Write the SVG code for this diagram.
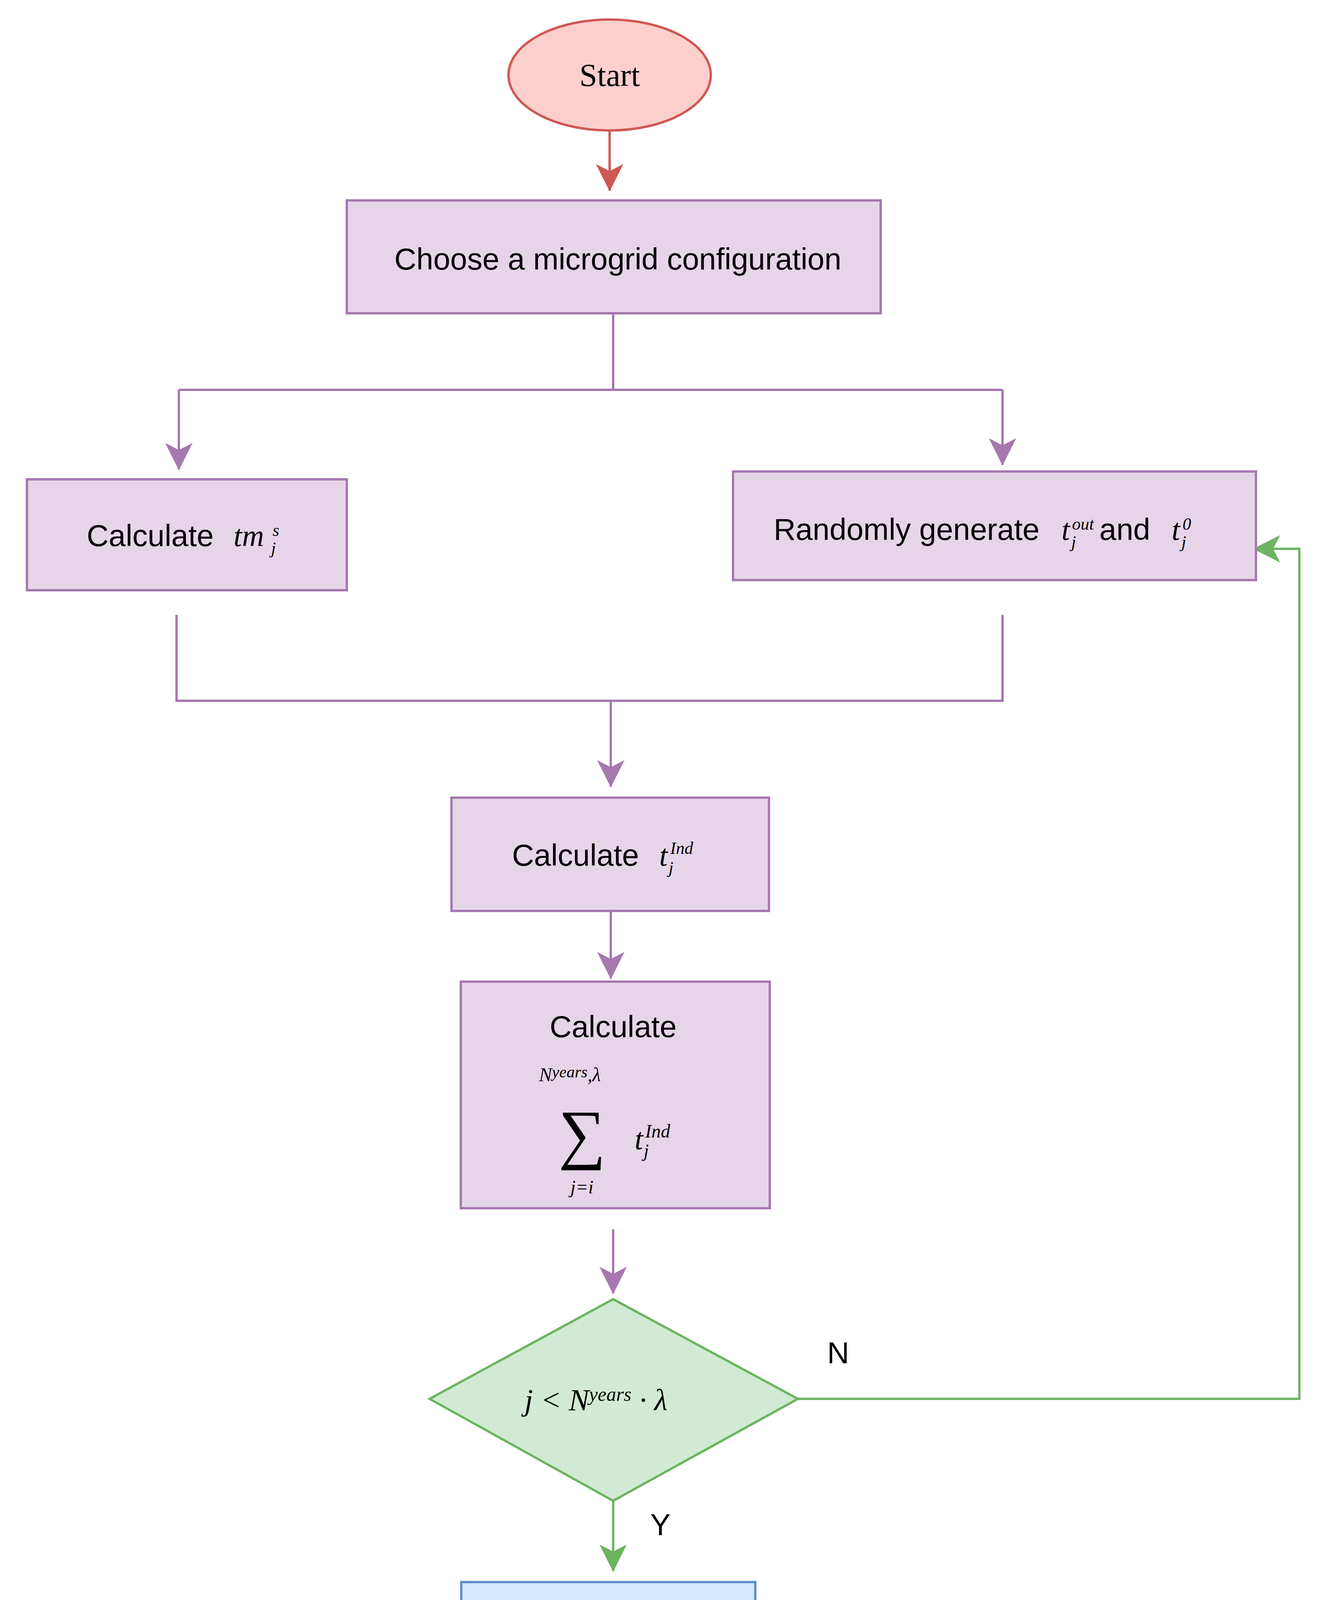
<svg xmlns="http://www.w3.org/2000/svg" width="3426" height="4910" viewBox="0 0 3426 4910">
<style>
.t{font-family:"Liberation Sans",Arial,sans-serif;font-size:78px;fill:#000}
.m{font-family:"Liberation Serif","Times New Roman",serif;font-style:italic;fill:#000}
.s{font-family:"Liberation Serif","Times New Roman",serif;fill:#000}
.p{fill:#e6d5e8;stroke:#a678b0;stroke-width:6}
.e{fill:#fccfcd;stroke:#cf5752;stroke-width:6}
.c{fill:none;stroke-width:6}
</style>
<defs>
<marker id="ap" viewBox="0 0 70 70" refX="68" refY="35" markerWidth="70" markerHeight="70" markerUnits="userSpaceOnUse" orient="auto"><path d="M0,0 L70,35 L0,70 L18,35 Z" fill="#a678b0"/></marker>
<marker id="ar" viewBox="0 0 70 70" refX="68" refY="35" markerWidth="70" markerHeight="70" markerUnits="userSpaceOnUse" orient="auto"><path d="M0,0 L70,35 L0,70 L18,35 Z" fill="#cf5752"/></marker>
<marker id="ag" viewBox="0 0 70 70" refX="68" refY="35" markerWidth="70" markerHeight="70" markerUnits="userSpaceOnUse" orient="auto"><path d="M0,0 L70,35 L0,70 L18,35 Z" fill="#6db461"/></marker>
<marker id="ab" viewBox="0 0 70 70" refX="68" refY="35" markerWidth="70" markerHeight="70" markerUnits="userSpaceOnUse" orient="auto"><path d="M0,0 L70,35 L0,70 L18,35 Z" fill="#5f8fc8"/></marker>
</defs>
<g id="connectors">
<path class="c" stroke="#cf5752" d="M1561,330 V488" marker-end="url(#ar)"/>
<path class="c" stroke="#a678b0" d="M1570,802 V998 M458,998 H2567"/>
<path class="c" stroke="#a678b0" d="M458,998 V1202" marker-end="url(#ap)"/>
<path class="c" stroke="#a678b0" d="M2567,998 V1190" marker-end="url(#ap)"/>
<path class="c" stroke="#a678b0" d="M452,1574 V1794 H2567 V1574"/>
<path class="c" stroke="#a678b0" d="M1564,1794 V2014" marker-end="url(#ap)"/>
<path class="c" stroke="#a678b0" d="M1564,2332 V2505" marker-end="url(#ap)"/>
<path class="c" stroke="#a678b0" d="M1570,3147 V3311" marker-end="url(#ap)"/>
<path class="c" stroke="#6db461" d="M2043,3581 H3327 V1405 H3210" marker-end="url(#ag)"/>
<path class="c" stroke="#6db461" d="M1570,3842 V4022" marker-end="url(#ag)"/>
<path class="c" stroke="#5f8fc8" stroke-dasharray="20 12" d="M1570,4437 V4560" marker-end="url(#ab)"/>
<text class="t" x="2118" y="3490">N</text>
<text class="t" x="1665" y="3930">Y</text>
</g>
<g id="start"><ellipse class="e" cx="1561" cy="192" rx="259" ry="142"/><text class="s" x="1561" y="220" font-size="82" text-anchor="middle">Start</text></g>
<g id="choose"><rect class="p" x="888" y="513" width="1367" height="289"/><text class="t" x="1582" y="690" text-anchor="middle">Choose a microgrid configuration</text></g>
<g id="calc-tm"><rect class="p" x="69" y="1227" width="819" height="284"/>
<text class="t" x="222" y="1398">Calculate</text>
<text class="m" x="598" y="1398" font-size="78">tm</text>
<text class="m" x="698" y="1372" font-size="44">s</text>
<text class="m" x="694" y="1418" font-size="44">j</text></g>
<g id="random"><rect class="p" x="1877" y="1207" width="1339" height="278"/>
<text class="t" x="1981" y="1382">Randomly generate</text>
<text class="m" x="2718" y="1382" font-size="78">t</text>
<text class="m" x="2745" y="1356" font-size="44">out</text>
<text class="m" x="2743" y="1402" font-size="44">j</text>
<text class="t" x="2815" y="1382">and</text>
<text class="m" x="3000" y="1382" font-size="78">t</text>
<text class="m" x="3028" y="1356" font-size="44">0</text>
<text class="m" x="3025" y="1402" font-size="44">j</text></g>
<g id="calc-tind"><rect class="p" x="1156" y="2042" width="813" height="290"/>
<text class="t" x="1311" y="2216">Calculate</text>
<text class="m" x="1688" y="2216" font-size="78">t</text>
<text class="m" x="1716" y="2186" font-size="44">Ind</text>
<text class="m" x="1712" y="2236" font-size="44">j</text></g>
<g id="calc-sum"><rect class="p" x="1180" y="2513" width="791" height="580"/>
<text class="t" x="1570" y="2655" text-anchor="middle">Calculate</text>
<text class="m" x="1380" y="2768" font-size="50">N<tspan font-size="42" dy="-10">years</tspan><tspan dy="10">,λ</tspan></text>
<text class="s" x="1490" y="2960" font-size="170" text-anchor="middle">∑</text>
<text class="m" x="1490" y="3055" font-size="48" text-anchor="middle">j=i</text>
<text class="m" x="1625" y="2942" font-size="78">t</text>
<text class="m" x="1652" y="2912" font-size="48">Ind</text>
<text class="m" x="1648" y="2962" font-size="48">j</text></g>
<g id="decision"><polygon points="1570,3326 2043,3581 1570,3842 1100,3581" fill="#d2ead3" stroke="#6db461" stroke-width="6"/>
<text class="m" x="1343" y="3610" font-size="78">j &lt; N<tspan font-size="50" dy="-24">years</tspan><tspan dy="24"> · λ</tspan></text></g>
<g id="calc-is"><rect x="1181" y="4050" width="753" height="343" fill="#d6e8fb" stroke="#5f8fc8" stroke-width="6"/>
<text class="t" x="1302" y="4262">Calculate</text>
<text class="m" x="1680" y="4262" font-size="78">I</text>
<text class="m" x="1707" y="4232" font-size="44">Ind</text>
<text class="m" x="1703" y="4282" font-size="44">s</text></g>
<g id="end"><ellipse class="e" cx="1561" cy="4733" rx="259" ry="145"/><text class="s" x="1561" y="4762" font-size="82" text-anchor="middle">End</text></g>
</svg>
